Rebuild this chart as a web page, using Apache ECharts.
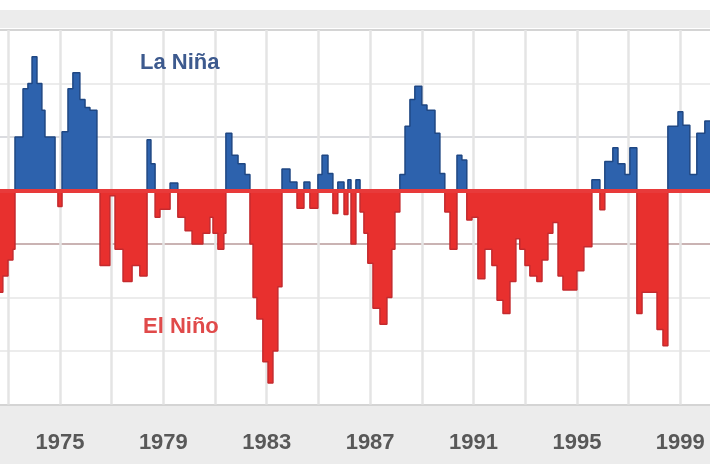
<!DOCTYPE html>
<html><head><meta charset="utf-8">
<script src="https://cdn.jsdelivr.net/npm/echarts@6/dist/echarts.min.js"></script>
<style>html,body{margin:0;padding:0;background:#fff}#c{width:710px;height:473px}</style>
</head><body><div id="c"></div>
<script>
// Southern Oscillation Index (smoothed), start year of each step and its value
const yrs = [1972.68,1972.79,1972.99,1973.18,1973.26,1973.57,1973.76,1973.92,1974.11,1974.30,1974.42,1974.81,1974.92,1975.08,1975.31,1975.50,1975.77,1975.97,1976.16,1976.43,1976.55,1976.78,1976.93,1977.13,1977.44,1977.79,1978.09,1978.37,1978.52,1978.68,1978.87,1979.26,1979.56,1979.84,1980.11,1980.34,1980.53,1980.80,1980.92,1981.11,1981.34,1981.42,1981.65,1981.89,1982.16,1982.35,1982.47,1982.62,1982.85,1983.05,1983.24,1983.43,1983.59,1983.90,1984.17,1984.44,1984.67,1984.98,1985.14,1985.37,1985.56,1985.75,1985.99,1986.14,1986.26,1986.45,1986.61,1986.76,1986.91,1987.11,1987.38,1987.65,1987.84,1987.96,1988.15,1988.35,1988.54,1988.73,1989.00,1989.20,1989.51,1989.70,1989.89,1990.09,1990.36,1990.55,1990.74,1990.94,1991.17,1991.44,1991.71,1991.91,1992.14,1992.41,1992.64,1992.79,1992.99,1993.18,1993.45,1993.65,1993.88,1994.07,1994.27,1994.46,1994.73,1995.00,1995.27,1995.58,1995.89,1996.08,1996.39,1996.59,1996.86,1997.05,1997.32,1997.52,1997.82,1998.10,1998.33,1998.52,1998.91,1999.10,1999.37,1999.64,1999.95,2000.15];
const soi = [-19,-16,-13,-11,10,19,20,25,20,15,10,0,-3,11,19,22,17,15.5,15,0,-14,-14,-1,-11,-17,-14,-16,9.5,5,-5,-3.5,1.4,-5,-7.5,-10,-10,-8,-5,-8,-11,-8,10.7,6.6,5,3,-10,-20,-24,-32,-36,-30,-18,4,1.6,-3.3,1.6,-3.3,3,6.6,3.2,-4.3,1.6,-4.5,2,-10,2,-4,-8,-13.6,-22,-25,-20,-11,-4,3,12,17,19.5,16,15,10.7,3.2,-4,-11,6.6,5.7,-5.5,-5,-16.5,-11,-14,-20.5,-23,-17,-9,-11,-14,-16,-17,-13,-8,-6,-16,-18.6,-18.6,-15,-10.5,2,-3.6,5.4,8,5,3,8,-23,-19,-19,-26,-29,12,14.7,12.2,3,10.7,13,13];
const gridYears = [1973,1975,1977,1979,1981,1983,1985,1987,1989,1991,1993,1995,1997,1999];
const xTicks = [1975,1979,1983,1987,1991,1995,1999];
const labelLaNina = 'La Niña';
const labelElNino = 'El Niño';

const pos = yrs.map((y,i)=>[y, Math.max(soi[i],0)]);
const neg = yrs.map((y,i)=>[y, Math.min(soi[i],0)]);

const chart = echarts.init(document.getElementById('c'));
chart.setOption({
  animation:false,
  backgroundColor:'#ffffff',
  grid:{left:0, right:0, top:30, height:374.5},
  xAxis:{type:'value', min:1972.68, max:2000.15,
    axisLine:{show:true, lineStyle:{color:'#b9b9b9', width:3}},
    axisTick:{show:false, customValues:gridYears},
    axisLabel:{margin:27, color:'#585858', fontSize:22, fontWeight:'bold', fontFamily:'Liberation Sans',
      customValues:xTicks, formatter:v=>String(v)},
    splitLine:{show:true, lineStyle:{color:'#e4e4e4', width:2.5}}
  },
  yAxis:{type:'value', min:-40, max:30, interval:10,
    axisLine:{show:false}, axisTick:{show:false}, axisLabel:{show:false},
    splitLine:{show:true, lineStyle:{width:1.6, color:['#c6c6c6','#e6e6e6','#e6e6e6','#b99a9a','#e84040','#cfd0d6','#e6e6e6','#c6c6c6']}}
  },
  graphic:[
    {type:'rect', z:-10, shape:{x:0,y:10,width:710,height:18}, style:{fill:'#ececec'}},
    {type:'rect', z:-10, shape:{x:0,y:406,width:710,height:58}, style:{fill:'#ececec'}},
    {type:'text', z:50, left:140, top:52, style:{text:labelLaNina, fill:'#3d5a8e', font:'bold 22px "Liberation Sans"'}},
    {type:'text', z:50, left:143, top:316, style:{text:labelElNino, fill:'#e04a4a', font:'bold 22px "Liberation Sans"'}}
  ],
  series:[
    {type:'line', step:'end', data:pos, symbol:'none', z:3,
      lineStyle:{color:'#1f4783', width:1.5}, areaStyle:{color:'#2d62ad', opacity:1, origin:0}},
    {type:'line', step:'end', data:neg, symbol:'none', z:3,
      lineStyle:{color:'#c42a2e', width:1.5}, areaStyle:{color:'#e8302e', opacity:1, origin:0},
      markLine:{silent:true, symbol:'none', label:{show:false}, z:5,
        lineStyle:{color:'#e83a3a', width:4, type:'solid'}, data:[{yAxis:0}]}}
  ]
});
</script></body></html>
